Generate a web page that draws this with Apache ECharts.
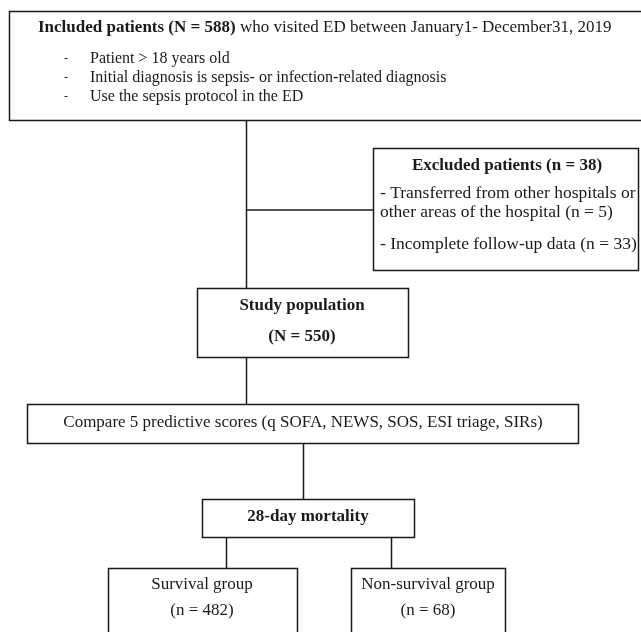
<!DOCTYPE html>
<html>
<head>
<meta charset="utf-8">
<script src="https://cdn.jsdelivr.net/npm/echarts@6/dist/echarts.min.js"></script>
<style>
html,body{margin:0;padding:0;background:#fff;}
#chart{width:641px;height:632px;}
</style>
</head>
<body>
<div id="chart"></div>
<script>
// ---- Data (texts and counts) ----
const includedTitle = ["Included patients (N = 588)", " who visited ED between January1- December31, 2019"];
const inclusionCriteria = ["Patient > 18 years old", "Initial diagnosis is sepsis- or infection-related diagnosis", "Use the sepsis protocol in the ED"];
const excludedTitle = "Excluded patients (n = 38)";
const excludedLines = ["- Transferred from other hospitals or", "other areas of the hospital (n = 5)", "- Incomplete follow-up data (n = 33)"];
const studyLines = ["Study population", "(N = 550)"];
const compareText = "Compare 5 predictive scores (q SOFA, NEWS, SOS, ESI triage, SIRs)";
const outcomeText = "28-day mortality";
const groupNames = ["Survival group", "Non-survival group"];
const groupCounts = [482, 68];

// ---- Layout (in the hidden 641 x 632 coordinate frame) ----
const boxLayout = {
  included: [9, 11, 660, 120],
  excluded: [373, 148, 638, 270],
  study: [197, 288, 408, 357],
  compare: [27, 404, 578, 443],
  outcome: [202, 499, 414, 537],
  survival: [108, 568, 297, 660],
  nonsurvival: [351, 568, 505, 660]
};
const connectorLayout = [
  [[246, 120], [246, 288]],
  [[246, 210], [373, 210]],
  [[246, 357], [246, 404]],
  [[303, 443], [303, 499]],
  [[226, 537], [226, 568]],
  [[391, 537], [391, 568]]
];

const FONT = "'Liberation Serif', 'Times New Roman', serif";
const FS = 17;
const INK = '#1a1a1a';

const textItems = [];
textItems.push({x: 38, y: 28, align: 'left', rich: true, text: '{b|' + includedTitle[0] + '}{n|' + includedTitle[1] + '}'});
inclusionCriteria.forEach((t, i) => {
  textItems.push({x: 64, y: 59 + i * 19, align: 'left', text: '-', size: 12});
  textItems.push({x: 90, y: 59 + i * 19, align: 'left', text: t, size: 16});
});
textItems.push({x: 507, y: 166, align: 'center', bold: true, text: excludedTitle});
textItems.push({x: 380, y: 193, align: 'left', text: excludedLines[0], size: 17.5});
textItems.push({x: 380, y: 212, align: 'left', text: excludedLines[1], size: 17.5});
textItems.push({x: 380, y: 244, align: 'left', text: excludedLines[2], size: 17.5});
textItems.push({x: 302, y: 306, align: 'center', bold: true, text: studyLines[0]});
textItems.push({x: 302, y: 337, align: 'center', bold: true, text: studyLines[1]});
textItems.push({x: 303, y: 423, align: 'center', text: compareText});
textItems.push({x: 308, y: 517, align: 'center', bold: true, text: outcomeText});
[202, 428].forEach((cx, i) => {
  textItems.push({x: cx, y: 585, align: 'center', text: groupNames[i]});
  textItems.push({x: cx, y: 611, align: 'center', text: '(n = ' + groupCounts[i] + ')'});
});

const boxData = Object.keys(boxLayout).map(k => boxLayout[k]);
const lineData = connectorLayout.map(c => [c[0][0], c[0][1], c[1][0], c[1][1]]);
const textData = textItems.map((t, i) => [t.x, t.y, i]);

const chart = echarts.init(document.getElementById('chart'), null, {renderer: 'canvas'});
chart.setOption({
  backgroundColor: '#fff',
  animation: false,
  grid: {left: 0, right: 0, top: 0, bottom: 0},
  xAxis: {type: 'value', min: 0, max: 641, show: false},
  yAxis: {type: 'value', min: 0, max: 632, inverse: true, show: false},
  series: [
    {
      type: 'custom',
      data: boxData,
      encode: {x: [0, 2], y: [1, 3]},
      renderItem: function (params, api) {
        const p0 = api.coord([api.value(0), api.value(1)]);
        const p1 = api.coord([api.value(2), api.value(3)]);
        return {
          type: 'rect',
          shape: {x: Math.round(p0[0]) + 0.5, y: Math.round(p0[1]) + 0.5, width: Math.round(p1[0] - p0[0]), height: Math.round(p1[1] - p0[1])},
          style: {fill: '#fff', stroke: INK, lineWidth: 1.5}
        };
      }
    },
    {
      type: 'custom',
      data: lineData,
      encode: {x: [0, 2], y: [1, 3]},
      renderItem: function (params, api) {
        const p0 = api.coord([api.value(0), api.value(1)]);
        const p1 = api.coord([api.value(2), api.value(3)]);
        return {
          type: 'line',
          shape: {x1: Math.round(p0[0]) + 0.5, y1: Math.round(p0[1]), x2: Math.round(p1[0]) + 0.5, y2: Math.round(p1[1])},
          style: {stroke: INK, lineWidth: 1.5}
        };
      }
    },
    {
      type: 'custom',
      data: textData,
      z: 10,
      renderItem: function (params, api) {
        const it = textItems[api.value(2)];
        const p = api.coord([api.value(0), api.value(1)]);
        const size = it.size || FS;
        const style = {
          x: p[0], y: p[1],
          text: it.text,
          textAlign: it.align,
          textVerticalAlign: 'middle',
          fill: INK,
          font: (it.bold ? 'bold ' : '') + size + 'px ' + FONT
        };
        if (it.rich) {
          style.rich = {
            b: {fontWeight: 'bold', fontSize: FS, fontFamily: FONT, fill: INK, color: INK},
            n: {fontWeight: 'normal', fontSize: FS, fontFamily: FONT, fill: INK, color: INK}
          };
        }
        return {type: 'text', style: style};
      }
    }
  ]
});
</script>
</body>
</html>
